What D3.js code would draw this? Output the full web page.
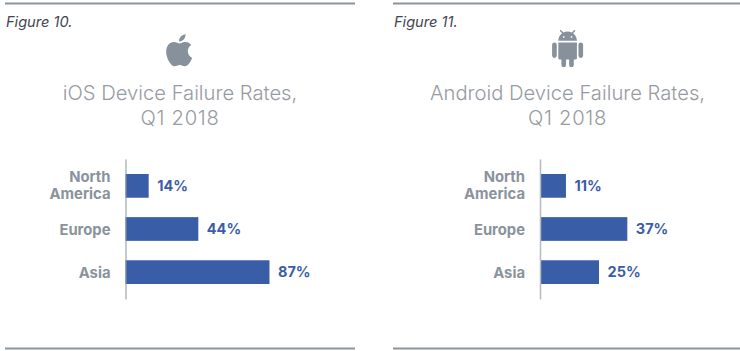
<!DOCTYPE html>
<html>
<head>
<meta charset="utf-8">
<script src="https://cdn.jsdelivr.net/npm/d3@7"></script>
<style>
  html, body { margin: 0; padding: 0; background: #fff; }
  svg { display: block; font-family: Inter, "Noto Sans", sans-serif; }
</style>
</head>
<body>
<div id="chart"></div>
<script>
// Values
const regions = ["North America", "Europe", "Asia"];
const iosRates = [14, 44, 87];
const androidRates = [11, 37, 25];
const iosTitle = ["iOS Device Failure Rates,", "Q1 2018"];
const androidTitle = ["Android Device Failure Rates,", "Q1 2018"];

const applePath = "M18.71 19.5c-.83 1.24-1.71 2.45-3.05 2.47-1.34.03-1.77-.79-3.29-.79-1.53 0-2 .77-3.27.82-1.31.05-2.3-1.32-3.14-2.53C4.25 17 2.94 12.45 4.7 9.39c.87-1.52 2.43-2.48 4.12-2.51 1.28-.02 2.5.87 3.29.87.78 0 2.26-1.07 3.81-.91.65.03 2.47.26 3.64 1.98-.09.06-2.17 1.28-2.15 3.81.03 3.02 2.65 4.03 2.68 4.04-.03.07-.42 1.44-1.38 2.83M13 3.5c.73-.83 1.94-1.46 2.94-1.5.13 1.17-.34 2.35-1.04 3.19-.69.85-1.83 1.51-2.95 1.42-.15-1.15.41-2.35 1.05-3.11z";
const androidPath = "M15,5H14V4H15M10,5H9V4H10M15.53,2.16L16.84,0.85C17.03,0.66 17.03,0.34 16.84,0.14C16.64,-0.05 16.32,-0.05 16.13,0.14L14.65,1.62C13.85,1.23 12.95,1 12,1C11.04,1 10.14,1.23 9.34,1.63L7.85,0.14C7.66,-0.05 7.34,-0.05 7.15,0.14C6.95,0.34 6.95,0.66 7.15,0.85L8.46,2.16C6.97,3.26 6,5 6,7H18C18,5 17,3.25 15.53,2.16M20.5,8A1.5,1.5 0 0,0 19,9.5V16.5A1.5,1.5 0 0,0 20.5,18A1.5,1.5 0 0,0 22,16.5V9.5A1.5,1.5 0 0,0 20.5,8M3.5,8A1.5,1.5 0 0,0 2,9.5V16.5A1.5,1.5 0 0,0 3.5,18A1.5,1.5 0 0,0 5,16.5V9.5A1.5,1.5 0 0,0 3.5,8M6,18A1,1 0 0,0 7,19H8V22.5A1.5,1.5 0 0,0 9.5,24A1.5,1.5 0 0,0 11,22.5V19H13V22.5A1.5,1.5 0 0,0 14.5,24A1.5,1.5 0 0,0 16,22.5V19H17A1,1 0 0,0 18,18V8H6V18Z";

const svg = d3
  .select("#chart")
  .append("svg")
  .attr("width", 740)
  .attr("height", 351);

function drawPanel(opts) {
  const g = svg.append("g");

  // Top and bottom rules
  [3.5, 348.5].forEach(function (ry) {
    g.append("line")
      .attr("x1", opts.ruleX[0])
      .attr("x2", opts.ruleX[1])
      .attr("y1", ry)
      .attr("y2", ry)
      .attr("stroke", "#8b959e")
      .attr("stroke-width", 2);
  });

  g.append("text")
    .attr("x", opts.ruleX[0] + 1)
    .attr("y", 27)
    .attr("font-size", 14.6)
    .attr("font-style", "italic")
    .attr("fill", "#3f4650")
    .text(opts.figure);

  // Icon
  g.append("path")
    .attr("d", opts.icon)
    .attr("transform", opts.iconTransform)
    .attr("fill", "#87919b");

  // Title, the digits on the second line run a bit wider in the original
  g.selectAll(".title")
    .data(opts.title)
    .join("text")
    .attr("class", "title")
    .attr("x", opts.titleX)
    .attr("y", (d, i) => 100 + i * 25)
    .attr("text-anchor", "middle")
    .attr("font-size", 20.2)
    .attr("font-weight", 300)
    .attr("letter-spacing", (d, i) => (i === 1 ? 0.7 : 0))
    .attr("fill", "#979ba2")
    .text((d) => d);

  // Scales
  const x = d3.scaleLinear().domain([0, 100]).range([opts.axisX, opts.axisX + opts.pxPerCent * 100]);
  const y = d3
    .scaleBand()
    .domain(regions)
    .range([159, 299])
    .paddingInner(0.45)
    .paddingOuter(0.348);

  // Bars
  g.selectAll(".bar")
    .data(opts.rates)
    .join("rect")
    .attr("class", "bar")
    .attr("x", x(0))
    .attr("y", (d, i) => y(regions[i]))
    .attr("width", (d) => x(d) - x(0))
    .attr("height", y.bandwidth())
    .attr("fill", "#3a5da8");

  // Value labels
  g.selectAll(".value")
    .data(opts.rates)
    .join("text")
    .attr("class", "value")
    .attr("x", (d) => x(d) + 8.5)
    .attr("y", (d, i) => y(regions[i]) + y.bandwidth() / 2)
    .attr("dy", "0.35em")
    .attr("font-size", 14.5)
    .attr("font-weight", 700)
    .attr("fill", "#3a5da8")
    .text((d) => d + "%");

  // Category axis
  const axis = g
    .append("g")
    .attr("transform", `translate(${opts.axisX}, 0)`)
    .call(d3.axisLeft(y).tickSize(0).tickPadding(15));

  axis.select(".domain")
    .attr("stroke", opts.axisColor)
    .attr("stroke-width", opts.axisWidth);

  axis.selectAll("text")
    .attr("font-family", "Inter, 'Noto Sans', sans-serif")
    .attr("font-size", 14.8)
    .attr("font-weight", 700)
    .attr("fill", "#8a939c")
    .attr("dy", "0.4em")
    .each(function (d) {
      const words = d.split(" ");
      if (words.length < 2) return;
      const t = d3.select(this).text(null).attr("dy", null);
      words.forEach(function (w, i) {
        t.append("tspan")
          .attr("x", -15)
          .attr("y", 0)
          .attr("dy", `${-0.25 + i * 1.17}em`)
          .text(w);
      });
    });
}

drawPanel({
  figure: "Figure 10.",
  ruleX: [5, 355],
  icon: applePath,
  iconTransform: "translate(160, 31) scale(1.6)",
  title: iosTitle,
  titleX: 180,
  rates: iosRates,
  axisX: 125.5,
  pxPerCent: 1.655,
  axisColor: "#8b959e",
  axisWidth: 1
});

drawPanel({
  figure: "Figure 11.",
  ruleX: [393, 740],
  icon: androidPath,
  iconTransform: "translate(549, 30) scale(1.55)",
  title: androidTitle,
  titleX: 567.5,
  rates: androidRates,
  axisX: 540,
  pxPerCent: 2.36,
  axisColor: "#b5bac0",
  axisWidth: 1.5
});
</script>
</body>
</html>
